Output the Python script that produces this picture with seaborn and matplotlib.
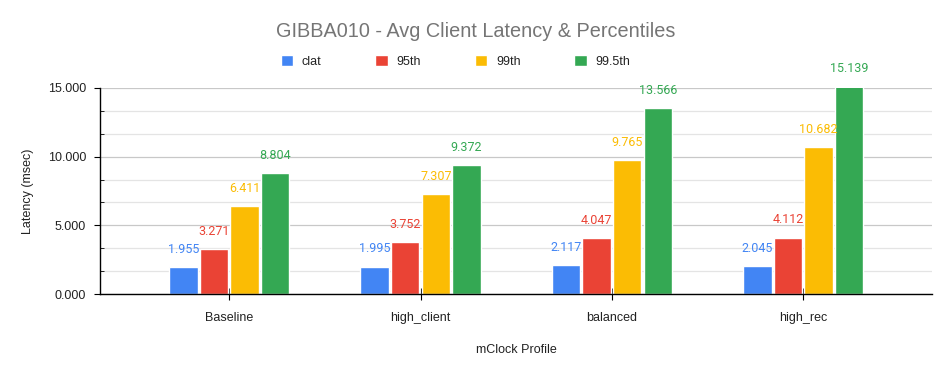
import pandas as pd
import matplotlib.pyplot as plt
import seaborn as sns
from matplotlib.ticker import MultipleLocator, FormatStrFormatter

# Data
profiles = ["Baseline", "high_client", "balanced", "high_rec"]
metrics = ["clat", "95th", "99th", "99.5th"]
clat = [1.955, 1.995, 2.117, 2.045]
p95 = [3.271, 3.752, 4.047, 4.112]
p99 = [6.411, 7.307, 9.765, 10.682]
p995 = [8.804, 9.372, 13.566, 15.139]
colors = ["#4285F4", "#EA4335", "#FBBC04", "#34A853"]

rows = []
for m, vals in zip(metrics, [clat, p95, p99, p995]):
    for p, v in zip(profiles, vals):
        rows.append({"profile": p, "metric": m, "latency": v})
df = pd.DataFrame(rows)

sns.set_style("white")
plt.rcParams["font.family"] = ["Liberation Sans", "DejaVu Sans"]

fig = plt.figure(figsize=(9.51, 3.71), dpi=100)
ax = fig.add_axes([0.105, 0.2075, 0.875, 0.5555])

sns.barplot(data=df, x="profile", y="latency", hue="metric", palette=colors,
            width=0.64, gap=0.07, saturation=1, ax=ax)

ax.set_ylim(0, 15)
ax.set_xlim(-0.676, 3.673)
ax.yaxis.set_major_locator(MultipleLocator(5))
ax.yaxis.set_minor_locator(MultipleLocator(5 / 3))
ax.yaxis.set_major_formatter(FormatStrFormatter("%.3f"))
ax.grid(axis="y", which="major", color="#c8c8c8", linewidth=0.9)
ax.grid(axis="y", which="minor", color="#e4e4e4", linewidth=0.9)
ax.set_axisbelow(True)

for s in ["top", "right"]:
    ax.spines[s].set_visible(False)
for s in ["left", "bottom"]:
    ax.spines[s].set_color("black")
    ax.spines[s].set_linewidth(1.0)

ax.tick_params(axis="y", which="major", direction="out", length=4, color="black",
               labelsize=9, labelcolor="#222222", pad=6, left=True)
ax.tick_params(axis="y", which="minor", direction="in", length=3, color="black", left=True)
ax.tick_params(axis="x", which="major", direction="inout", length=8, color="black",
               labelsize=9, labelcolor="#222222", pad=9, bottom=True)

ax.set_xlabel("mClock Profile", fontsize=9, color="#222222", labelpad=14)
ax.set_ylabel("Latency (msec)", fontsize=9, color="#222222", labelpad=10)

# data labels above bars
for cont, c in zip(ax.containers, colors):
    ax.bar_label(cont, fmt="%.3f", padding=8, color=c, fontsize=9,
                 family="Roboto", annotation_clip=False)

# legend on top
handles, labels = ax.get_legend_handles_labels()
ax.legend_.remove()
leg = fig.legend(handles, labels, loc="center", bbox_to_anchor=(0.479, 0.834),
                 ncol=4, frameon=False, fontsize=9, handlelength=1.0,
                 handleheight=1.0, handletextpad=0.7, columnspacing=4.3)
for t in leg.get_texts():
    t.set_color("#222222")

fig.suptitle("GIBBA010 - Avg Client Latency & Percentiles", y=0.916, va="center",
             fontsize=14.3, color="#757575")

fig.savefig("out.png", dpi=100)
